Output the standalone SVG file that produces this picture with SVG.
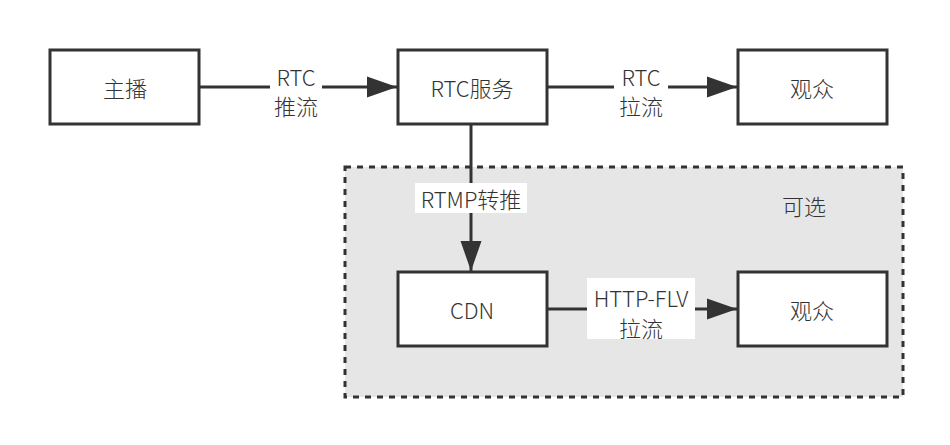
<svg xmlns="http://www.w3.org/2000/svg" width="950" height="445" viewBox="0 0 950 445">
<style>
.box{fill:#fff;stroke:#333;stroke-width:3}
.t{font-family:"Noto Sans CJK SC","Noto Sans",sans-serif;font-weight:200;font-size:22px;fill:#333;text-anchor:middle;dominant-baseline:central}
.ln{stroke:#333;stroke-width:3;fill:none}
.lb{fill:#fff}
</style>
<defs>
<marker id="ah" markerWidth="11" markerHeight="8" refX="10" refY="4" orient="auto" markerUnits="strokeWidth">
<path d="M0,0.5 L10,4 L0,7.5 Z" fill="#333"/>
</marker>
</defs>
<rect width="950" height="445" fill="#fff"/>
<g id="optional">
<rect x="345" y="167" width="558" height="230" fill="#e6e6e6" stroke="#333" stroke-width="3" stroke-dasharray="6 6"/>
<text class="t" x="804" y="205">可选</text>
</g>
<g id="connectors">
<line class="ln" x1="200" y1="87" x2="397" y2="87" marker-end="url(#ah)"/>
<line class="ln" x1="547" y1="87" x2="737" y2="87" marker-end="url(#ah)"/>
<line class="ln" x1="471" y1="124" x2="471" y2="271" marker-end="url(#ah)"/>
<line class="ln" x1="547" y1="309" x2="737" y2="309" marker-end="url(#ah)"/>
<rect class="lb" x="270" y="64" width="52" height="54"/>
<text class="t" x="296" y="76">RTC</text>
<text class="t" x="296" y="105">推流</text>
<rect class="lb" x="614" y="64" width="54" height="54"/>
<text class="t" x="641" y="76">RTC</text>
<text class="t" x="641" y="105">拉流</text>
<rect class="lb" x="415" y="183" width="112" height="30"/>
<text class="t" x="471" y="198">RTMP转推</text>
<rect class="lb" x="587" y="278" width="108" height="61"/>
<text class="t" x="641" y="297">HTTP-FLV</text>
<text class="t" x="641" y="327">拉流</text>
</g>
<g id="zhubo"><rect class="box" x="50" y="50" width="149" height="74"/><text class="t" x="125" y="87">主播</text></g>
<g id="rtc"><rect class="box" x="398" y="50" width="149" height="74"/><text class="t" x="472" y="87">RTC服务</text></g>
<g id="viewer1"><rect class="box" x="738" y="50" width="149" height="74"/><text class="t" x="812" y="87">观众</text></g>
<g id="cdn"><rect class="box" x="398" y="272" width="149" height="74"/><text class="t" x="472" y="309">CDN</text></g>
<g id="viewer2"><rect class="box" x="738" y="272" width="149" height="74"/><text class="t" x="812" y="309">观众</text></g>
</svg>
